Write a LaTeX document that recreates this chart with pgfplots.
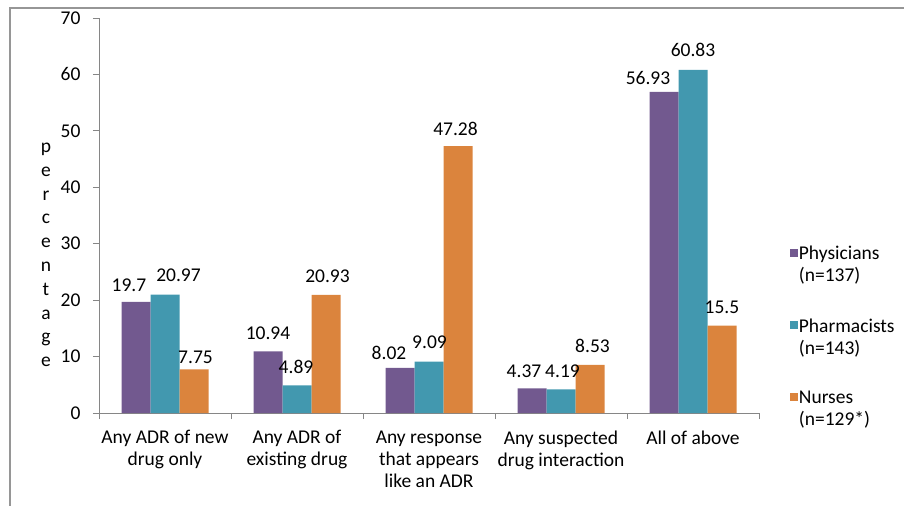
\documentclass[border=0pt]{standalone}
\usepackage{pgfplots}
\usepackage{pgfplotstable}
\pgfplotsset{compat=1.18}
\usepackage{fontspec}
\setmainfont{Carlito}
\definecolor{phys}{RGB}{114,89,143}
\definecolor{pharm}{RGB}{66,152,175}
\definecolor{nurse}{RGB}{219,132,61}
\definecolor{axgray}{RGB}{134,134,134}
\definecolor{framegray}{RGB}{150,150,150}
\newcommand{\cfont}{\fontsize{19.5bp}{22bp}\selectfont}
% columns: category, value, label x-offset, label baseline height above bar
\pgfplotstableread{
x y dx dy
0 19.7 -7 10
1 10.94 0 12
2 8.02 -11 8
3 4.37 -8 11
4 56.93 -16 7
}\physdata
\pgfplotstableread{
x y dx dy
0 20.97 13.5 13
1 4.89 -1 12
2 9.09 0.5 13
3 4.19 1.5 12
4 60.83 0 13
}\pharmdata
\pgfplotstableread{
x y dx dy
0 7.75 1.5 6
1 20.93 1.5 12
2 47.28 -2.5 11
3 8.53 2.5 12
4 15.5 0 12
}\nursedata
\begin{document}
\begin{tikzpicture}
\useasboundingbox (0,0) rectangle (904bp,-506bp);
\draw[framegray, line width=1.5bp] (10bp,-506bp) -- (10bp,-8bp) -- (904bp,-8bp);
\node[font=\fontsize{19.5bp}{23.8bp}\selectfont, align=center] at (46bp,-255bp) {p\\e\\r\\c\\e\\n\\t\\a\\g\\e};
\begin{axis}[
  at={(99bp,-413bp)}, anchor=south west,
  scale only axis, width=660bp, height=395bp,
  xmin=-0.5, xmax=4.5, ymin=0, ymax=70,
  axis x line*=bottom, axis y line*=left,
  axis line style={draw=axgray, line width=1bp},
  every tick/.style={draw=axgray, line width=1bp},
  tick align=outside, major tick length=6bp,
  ytick={0,10,...,70},
  yticklabel style={font=\cfont, xshift=-9bp, /pgf/number format/assume math mode=true},
  xtick={-0.5,0.5,...,4.5},
  x tick label as interval,
  xticklabels={{Any ADR of new\\drug only},{Any ADR of\\existing drug},{Any response\\that appears\\like an ADR},{Any suspected\\drug interaction},{All of above}},
  xticklabel style={font=\cfont, align=center, anchor=north, yshift=-8bp},
  ybar=0pt, bar width=29bp,
  visualization depends on={\thisrow{dx} \as \ldx},
  visualization depends on={\thisrow{dy} \as \ldy},
  nodes near coords,
  every node near coord/.append style={font=\cfont, anchor=base, xshift=\ldx bp, yshift=\ldy bp, /pgf/number format/assume math mode=true},
  legend style={draw=none, fill=none, at={(1.042,0.43)}, anchor=north west,
    row sep=33.5bp, column sep=0bp, nodes={align=left, font=\cfont, inner sep=1bp}},
  legend cell align=left,
  legend image code/.code={\fill[#1] (0bp,8bp) rectangle (8bp,16bp);},
]
\addplot[fill=phys, draw=none] table[x=x, y=y] {\physdata};
\addplot[fill=pharm, draw=none] table[x=x, y=y] {\pharmdata};
\addplot[fill=nurse, draw=none] table[x=x, y=y] {\nursedata};
\addlegendentry{Physicians\\(n=137)}
\addlegendentry{Pharmacists\\(n=143)}
\addlegendentry{Nurses\\(n=129*)}
\end{axis}
\end{tikzpicture}
\end{document}
